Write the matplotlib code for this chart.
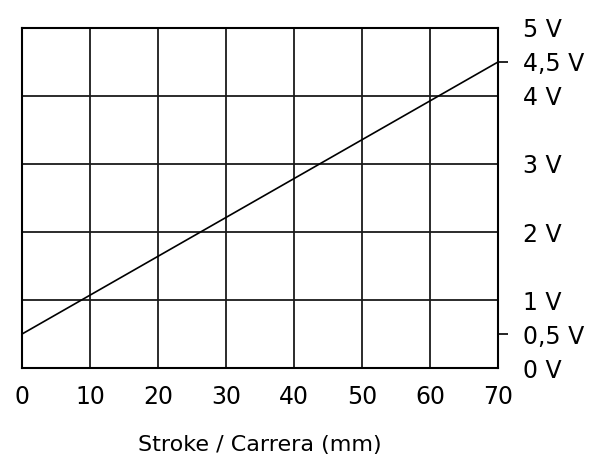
import matplotlib.pyplot as plt

# data
stroke_mm = [0, 70]
volts = [0.5, 4.5]

x_ticks = [0, 10, 20, 30, 40, 50, 60, 70]
y_major = [0, 1, 2, 3, 4, 5]
y_major_labels = ["0 V", "1 V", "2 V", "3 V", "4 V", "5 V"]
y_minor = [0.5, 4.5]
y_minor_labels = ["0,5 V", "4,5 V"]

plt.rcParams["font.family"] = ["DejaVu Sans"]

fig = plt.figure(figsize=(5.89, 4.61), dpi=100)
ax = fig.add_axes([0.0374, 0.2017, 0.8082, 0.7376])

for xv in x_ticks[1:-1]:
    ax.axvline(xv, color="#1a1a1a", lw=1.3, zorder=1)
for yv in y_major[1:-1]:
    ax.axhline(yv, color="#1a1a1a", lw=1.3, zorder=1)

ax.plot(stroke_mm, volts, color="black", lw=1.2, zorder=2)

ax.set_xlim(0, 70)
ax.set_ylim(0, 5)
for s in ax.spines.values():
    s.set_linewidth(1.5)
    s.set_color("black")

ax.set_xticks(x_ticks)
ax.tick_params(axis="x", length=0, pad=12, labelsize=17)

ax.yaxis.tick_right()
ax.set_yticks(y_major)
ax.set_yticklabels(y_major_labels)
ax.set_yticks(y_minor, minor=True)
ax.set_yticklabels(y_minor_labels, minor=True)
ax.tick_params(axis="y", which="major", length=0, pad=18, labelsize=17)
ax.tick_params(axis="y", which="minor", length=7.5, width=1.2, pad=10.5, labelsize=17)

ax.set_xlabel("Stroke / Carrera (mm)", fontsize=16, labelpad=19)

fig.savefig("out.png", dpi=100)
